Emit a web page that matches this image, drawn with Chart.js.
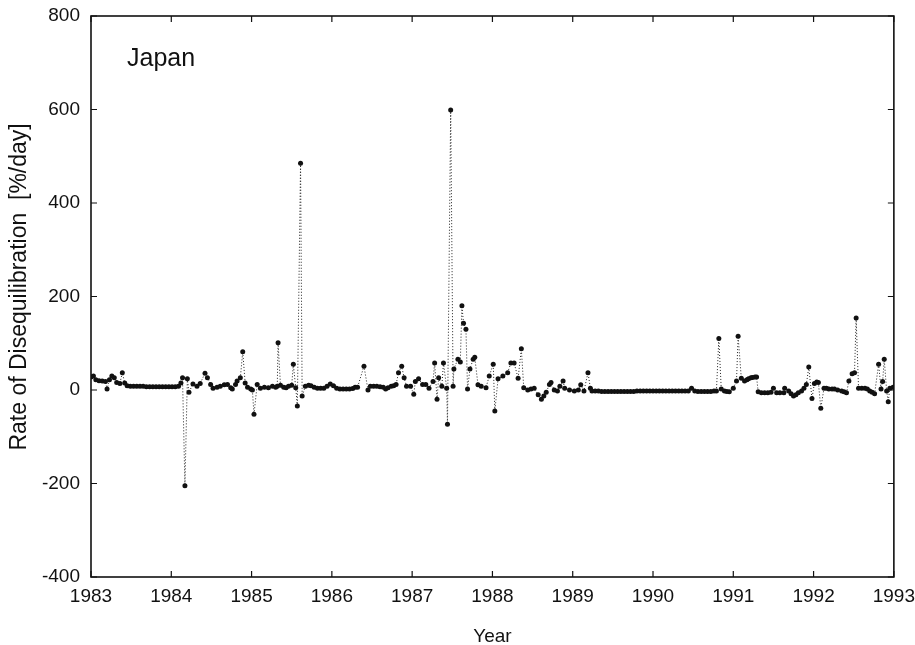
<!DOCTYPE html>
<html>
<head>
<meta charset="utf-8">
<title>Japan - Rate of Disequilibration</title>
<script src="https://cdn.jsdelivr.net/npm/chart.js@4.4.1/dist/chart.umd.min.js"></script>
<style>
  html, body { margin: 0; padding: 0; background: #ffffff; }
  #grafico { display: block; }
</style>
</head>
<body>
<canvas id="grafico" width="915" height="645"></canvas>
<script>
// Dados (ano decimal, taxa em %/dia)
const anos = [
  1983.00, 1983.03, 1983.06, 1983.10, 1983.14, 1983.18, 1983.20, 1983.23, 1983.26, 1983.29,
  1983.32, 1983.36, 1983.39, 1983.42, 1983.45, 1983.49, 1983.53, 1983.57, 1983.61, 1983.65,
  1983.69, 1983.73, 1983.77, 1983.81, 1983.85, 1983.89, 1983.93, 1983.97, 1984.01, 1984.05,
  1984.09, 1984.12, 1984.14, 1984.17, 1984.20, 1984.22, 1984.27, 1984.32, 1984.36, 1984.42,
  1984.45, 1984.49, 1984.52, 1984.57, 1984.61, 1984.66, 1984.70, 1984.74, 1984.76, 1984.80,
  1984.82, 1984.86, 1984.89, 1984.92, 1984.95, 1984.99, 1985.01, 1985.03, 1985.07, 1985.11,
  1985.16, 1985.21, 1985.26, 1985.30, 1985.32, 1985.33, 1985.36, 1985.40, 1985.43, 1985.46,
  1985.50, 1985.52, 1985.55, 1985.57, 1985.61, 1985.63, 1985.67, 1985.71, 1985.74, 1985.78,
  1985.82, 1985.86, 1985.90, 1985.94, 1985.98, 1986.02, 1986.06, 1986.10, 1986.14, 1986.18,
  1986.22, 1986.26, 1986.29, 1986.32, 1986.40, 1986.45, 1986.48, 1986.52, 1986.56, 1986.60,
  1986.64, 1986.67, 1986.70, 1986.74, 1986.77, 1986.80, 1986.83, 1986.87, 1986.90, 1986.93,
  1986.98, 1987.02, 1987.04, 1987.08, 1987.13, 1987.17, 1987.21, 1987.26, 1987.28, 1987.31,
  1987.33, 1987.37, 1987.39, 1987.43, 1987.44, 1987.48, 1987.51, 1987.52, 1987.57, 1987.60,
  1987.62, 1987.64, 1987.67, 1987.69, 1987.72, 1987.76, 1987.78, 1987.82, 1987.86, 1987.92,
  1987.96, 1988.01, 1988.03, 1988.07, 1988.13, 1988.19, 1988.23, 1988.27, 1988.32, 1988.36,
  1988.39, 1988.44, 1988.48, 1988.52, 1988.57, 1988.61, 1988.64, 1988.67, 1988.71, 1988.73,
  1988.77, 1988.81, 1988.84, 1988.88, 1988.90, 1988.96, 1989.02, 1989.07, 1989.10, 1989.14,
  1989.19, 1989.22, 1989.24, 1989.28, 1989.32, 1989.36, 1989.40, 1989.44, 1989.48, 1989.52,
  1989.56, 1989.60, 1989.64, 1989.68, 1989.72, 1989.76, 1989.80, 1989.84, 1989.88, 1989.92,
  1989.96, 1990.00, 1990.04, 1990.08, 1990.12, 1990.16, 1990.20, 1990.24, 1990.28, 1990.32,
  1990.36, 1990.40, 1990.44, 1990.48, 1990.52, 1990.56, 1990.60, 1990.64, 1990.68, 1990.72,
  1990.76, 1990.79, 1990.82, 1990.85, 1990.89, 1990.92, 1990.95, 1991.00, 1991.04, 1991.06,
  1991.10, 1991.14, 1991.17, 1991.19, 1991.22, 1991.24, 1991.27, 1991.29, 1991.31, 1991.35,
  1991.39, 1991.43, 1991.47, 1991.50, 1991.54, 1991.58, 1991.63, 1991.64, 1991.69, 1991.72,
  1991.75, 1991.78, 1991.81, 1991.85, 1991.88, 1991.91, 1991.94, 1991.98, 1992.01, 1992.04,
  1992.06, 1992.09, 1992.13, 1992.16, 1992.19, 1992.23, 1992.26, 1992.30, 1992.35, 1992.38,
  1992.41, 1992.44, 1992.48, 1992.51, 1992.53, 1992.56, 1992.60, 1992.64, 1992.67, 1992.70,
  1992.73, 1992.76, 1992.81, 1992.84, 1992.86, 1992.88, 1992.91, 1992.93, 1992.95, 1992.99
];

const taxas = [
  28, 30, 22, 20, 19, 18, 2, 22, 30, 26,
  16, 14, 37, 15, 9, 8, 8, 8, 8, 8,
  7, 7, 7, 7, 7, 7, 7, 7, 7, 7,
  8, 15, 26, -205, 24, -5, 13, 8, 14, 36,
  26, 12, 4, 6, 8, 11, 12, 5, 2, 12,
  19, 26, 82, 15, 6, 2, 0, -52, 12, 4,
  6, 5, 8, 6, 8, 101, 10, 6, 5, 8,
  10, 55, 5, -34, 485, -13, 8, 10, 9, 6,
  4, 4, 4, 8, 13, 9, 4, 2, 2, 2,
  2, 3, 6, 6, 51, 0, 8, 8, 8, 7,
  6, 2, 5, 8, 9, 12, 37, 51, 26, 8,
  8, -9, 18, 24, 12, 12, 4, 18, 58, -20,
  26, 8, 58, 4, -73, 599, 8, 45, 66, 60,
  180, 143, 130, 2, 45, 66, 70, 11, 8, 5,
  30, 55, -45, 24, 30, 37, 58, 58, 25, 88,
  5, 0, 2, 4, -10, -20, -13, -5, 12, 16,
  0, -2, 8, 19, 4, 0, -2, 0, 11, -2,
  37, 4, -2, -2, -2, -3, -3, -3, -3, -3,
  -3, -3, -3, -3, -3, -3, -2, -2, -2, -2,
  -2, -2, -2, -2, -2, -2, -2, -2, -2, -2,
  -2, -2, -2, 4, -2, -3, -3, -3, -3, -3,
  -2, -2, 110, 2, -2, -3, -4, 4, 19, 115,
  25, 19, 22, 24, 26, 27, 28, 28, -4, -6,
  -6, -6, -5, 4, -6, -6, -6, 4, -2, -8,
  -13, -10, -6, -2, 4, 12, 49, -18, 14, 17,
  16, -39, 4, 4, 2, 2, 2, 0, -2, -4,
  -6, 19, 35, 37, 154, 4, 4, 4, 2, -2,
  -5, -8, 55, 2, 18, 66, -2, -25, 4, 6
];

const ticksAno = [1983, 1984, 1985, 1986, 1987, 1988, 1989, 1990, 1991, 1992, 1993];
const ticksTaxa = [-400, -200, 0, 200, 400, 600, 800];

const fonte = "'Liberation Sans', Arial, sans-serif";

// Moldura e marcas de escala para dentro, nos quatro lados
const molduraPlugin = {
  id: "moldura",
  afterDraw(chart) {
    const ctx = chart.ctx;
    const a = chart.chartArea;
    const x = chart.scales.x;
    const y = chart.scales.y;
    ctx.save();
    ctx.strokeStyle = "#111";
    ctx.lineWidth = 1.6;
    ctx.strokeRect(a.left, a.top, a.right - a.left, a.bottom - a.top);
    ctx.lineWidth = 1.2;
    ctx.beginPath();
    ticksAno.forEach(v => {
      const px = x.getPixelForValue(v);
      ctx.moveTo(px, a.bottom); ctx.lineTo(px, a.bottom - 6);
      ctx.moveTo(px, a.top); ctx.lineTo(px, a.top + 6);
    });
    ticksTaxa.forEach(v => {
      const py = y.getPixelForValue(v);
      ctx.moveTo(a.left, py); ctx.lineTo(a.left + 6, py);
      ctx.moveTo(a.right, py); ctx.lineTo(a.right - 6, py);
    });
    ctx.stroke();

    // Rótulo do país
    ctx.fillStyle = "#111";
    ctx.font = "25px " + fonte;
    ctx.textBaseline = "alphabetic";
    ctx.fillText("Japan", 127, 66);
    ctx.restore();
  }
};

function desenharGrafico() {
  const ctx = document.getElementById("grafico").getContext("2d");
  const pontos = anos.map((ano, i) => ({ x: ano, y: taxas[i] }));

  new Chart(ctx, {
    type: "line",
    data: {
      datasets: [{
        data: pontos,
        borderColor: "#222",
        borderWidth: 1,
        borderDash: [1, 2],
        pointRadius: 2.5,
        pointBackgroundColor: "#111",
        pointBorderWidth: 0,
        tension: 0,
        fill: false
      }]
    },
    options: {
      responsive: false,
      animation: false,
      devicePixelRatio: 1,
      layout: { padding: { top: 16, right: 17, bottom: 0, left: 0 } },
      plugins: {
        legend: { display: false },
        tooltip: { enabled: false }
      },
      scales: {
        x: {
          type: "linear",
          min: 1983,
          max: 1993,
          afterFit: scale => { scale.height = 68; },
          afterBuildTicks: scale => { scale.ticks = ticksAno.map(v => ({ value: v })); },
          grid: { display: false },
          border: { display: false },
          ticks: {
            color: "#111",
            padding: 0,
            maxRotation: 0,
            font: { family: fonte, size: 19 },
            callback: v => String(v)
          },
          title: {
            display: true,
            text: "Year",
            color: "#111",
            padding: { top: 0, bottom: 0 },
            font: { family: fonte, size: 19, lineHeight: 0.9 }
          }
        },
        y: {
          min: -400,
          max: 800,
          afterFit: scale => { scale.width = 91; },
          afterBuildTicks: scale => { scale.ticks = ticksTaxa.map(v => ({ value: v })); },
          grid: { display: false },
          border: { display: false },
          ticks: {
            color: "#111",
            padding: 3,
            font: { family: fonte, size: 19 },
            callback: v => String(v)
          },
          title: {
            display: true,
            text: "   Rate of Disequilibration  [%/day]",
            color: "#111",
            padding: { top: 6, bottom: 0 },
            font: { family: fonte, size: 23 }
          }
        }
      }
    },
    plugins: [molduraPlugin]
  });
}

document.addEventListener("DOMContentLoaded", desenharGrafico);
</script>
</body>
</html>
